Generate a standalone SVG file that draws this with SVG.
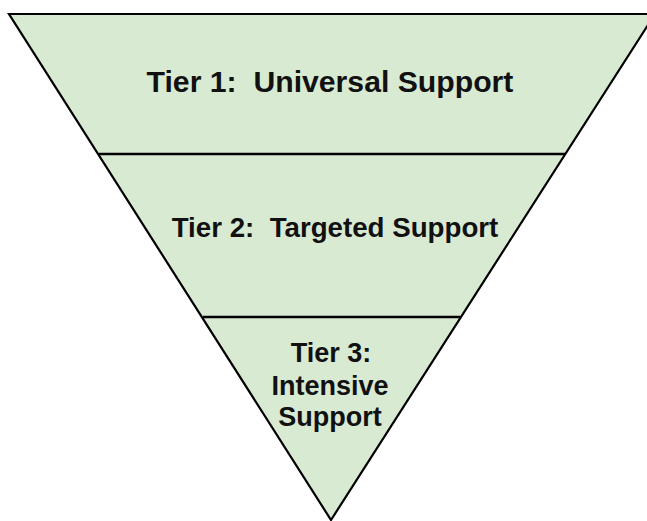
<svg xmlns="http://www.w3.org/2000/svg" width="647" height="521" viewBox="0 0 647 521">
<style>
.t{font-family:"Liberation Sans",Arial,sans-serif;font-weight:bold;fill:#111;text-anchor:middle;white-space:pre}
.div{stroke:#000;stroke-width:2.5;fill:none}
</style>
<rect width="647" height="521" fill="#fff"/>
<g id="pyramid">
<polygon points="9,14 655,14 331,520" fill="#d9ead3" stroke="#000" stroke-width="2.2" stroke-linejoin="miter"/>
</g>
<g id="connectors">
<line class="div" x1="99" y1="154" x2="565" y2="154"/>
<line class="div" x1="203" y1="317" x2="460" y2="317"/>
</g>
<g id="tier1"><text class="t" x="330" y="92" font-size="30.2" xml:space="preserve">Tier 1:  Universal Support</text></g>
<g id="tier2"><text class="t" x="335" y="237" font-size="27.7" xml:space="preserve">Tier 2:  Targeted Support</text></g>
<g id="tier3" font-size="27"><text class="t" x="331" y="362">Tier 3:</text><text class="t" x="330" y="395">Intensive</text><text class="t" x="330" y="426">Support</text></g>
</svg>
